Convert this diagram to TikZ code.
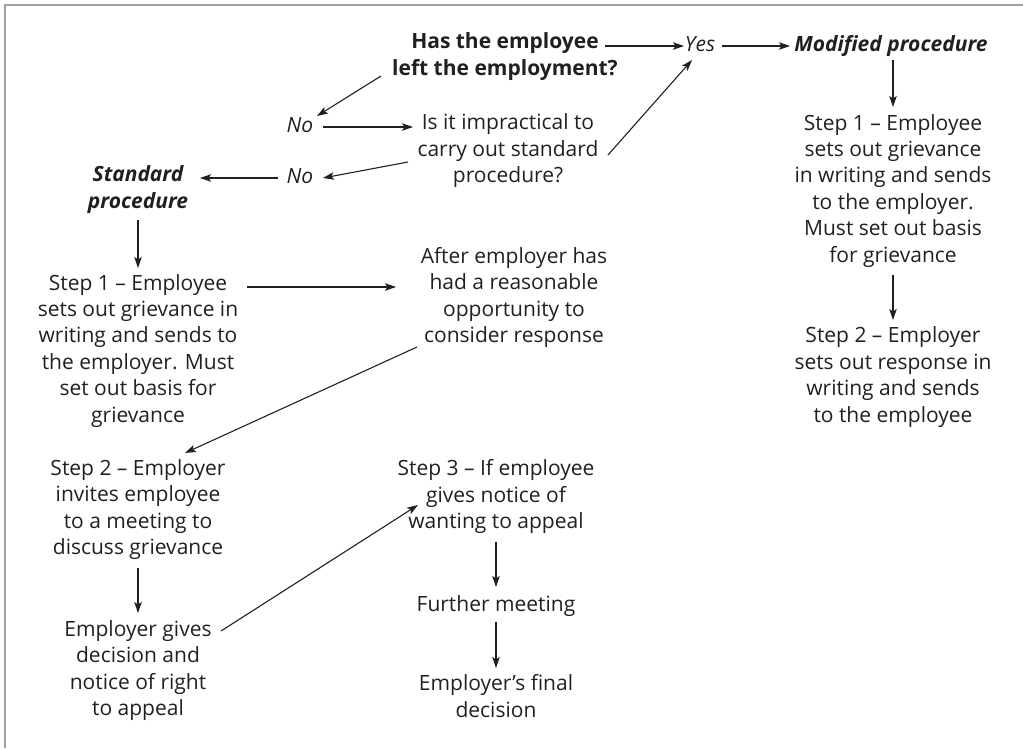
\documentclass[tikz,border=0pt]{standalone}
\usepackage{fontspec}
\setmainfont{Open Sans}
\usetikzlibrary{arrows.meta,calc}
\definecolor{ink}{HTML}{231F20}
\definecolor{frame}{HTML}{A0A0A0}
\begin{document}
\begin{tikzpicture}[x=1pt,y=-1pt,
  txt/.style={align=center,inner sep=0pt,text=ink,
    font=\fontsize{21}{26.4}\selectfont,
    execute at begin node=\strut, execute at end node=\strut},
  arr/.style={draw=ink,line width=1.1pt,-{Stealth[length=11pt,width=7.5pt,inset=2.5pt]}}]
\useasboundingbox (0,0) rectangle (1023,748);
\draw[frame,line width=2.2pt] (5,748) -- (5,5) -- (1023,5);
% nodes
\node[txt,font=\fontsize{21}{26.4}\selectfont\bfseries] (has) at (505,58) {Has the employee\\left the employment?};
\node[txt,font=\fontsize{21}{26.4}\selectfont\itshape] (yes) at (700,46) {Yes};
\node[txt,font=\fontsize{21}{26.4}\selectfont\bfseries\itshape] (mod) at (891,46) {Modified procedure};
\node[txt] (rs1) at (893,192) {Step 1 -- Employee\\sets out grievance\\in writing and sends\\to the employer.\\Must set out basis\\for grievance};
\node[txt] (rs2) at (893,378.5) {Step 2 -- Employer\\sets out response in\\writing and sends\\to the employee};
\node[txt,font=\fontsize{21}{26.4}\selectfont\itshape] (no1) at (300,127) {No};
\node[txt] (imp) at (508,152) {Is it impractical to\\carry out standard\\procedure?};
\node[txt,font=\fontsize{21}{26.4}\selectfont\itshape] (no2) at (300,178) {No};
\node[txt,font=\fontsize{21}{26.4}\selectfont\bfseries\itshape] (std) at (138,191) {Standard\\procedure};
\node[txt] (ls1) at (138,352) {Step 1 -- Employee\\sets out grievance in\\writing and sends to\\the employer. Must\\set out basis for\\grievance};
\node[txt] (after) at (514,299) {After employer has\\had a reasonable\\opportunity to\\consider response};
\node[txt] (ls2) at (138,511) {Step 2 -- Employer\\invites employee\\to a meeting to\\discuss grievance};
\node[txt] (egives) at (138,672) {Employer gives\\decision and\\notice of right\\to appeal};
\node[txt] (s3) at (496,498) {Step 3 -- If employee\\gives notice of\\wanting to appeal};
\node[txt] (fm) at (496,606) {Further meeting};
\node[txt] (final) at (496,700) {Employer’s final\\decision};
% connectors
\draw[arr] ($(has)+(100,-12)$) -- ($(yes)+(-16,0)$);
\draw[arr] ($(yes)+(22,0)$) -- ($(mod)+(-101,0)$);
\draw[arr] ($(mod)+(2,14)$) -- ($(rs1)+(0,-85)$);
\draw[arr] ($(rs1)+(0,83)$) -- ($(rs2)+(0,-58.5)$);
\draw[arr] ($(has)+(-124,18)$) -- ($(no1)+(17,-11)$);
\draw[arr] ($(no1)+(23,0)$) -- ($(imp)+(-95,-25)$);
\draw[arr] ($(imp)+(100,3)$) -- ($(yes)+(-8,14)$);
\draw[arr] ($(imp)+(-100,10)$) -- ($(no2)+(23,0)$);
\draw[arr] ($(no2)+(-22,0)$) -- ($(std)+(62,-13)$);
\draw[arr] ($(std)+(0,29)$) -- ($(ls1)+(0,-84)$);
\draw[arr] ($(ls1)+(109,-65)$) -- ($(after)+(-118,-12)$);
\draw[arr] ($(after)+(-97,48)$) -- ($(ls2)+(47,-58)$);
\draw[arr] ($(ls2)+(0,57)$) -- ($(egives)+(0,-59)$);
\draw[arr] ($(egives)+(83,-41)$) -- ($(s3)+(-78,7)$);
\draw[arr] ($(s3)+(0,44)$) -- ($(fm)+(0,-19)$);
\draw[arr] ($(fm)+(0,16)$) -- ($(final)+(0,-32)$);
\end{tikzpicture}
\end{document}
